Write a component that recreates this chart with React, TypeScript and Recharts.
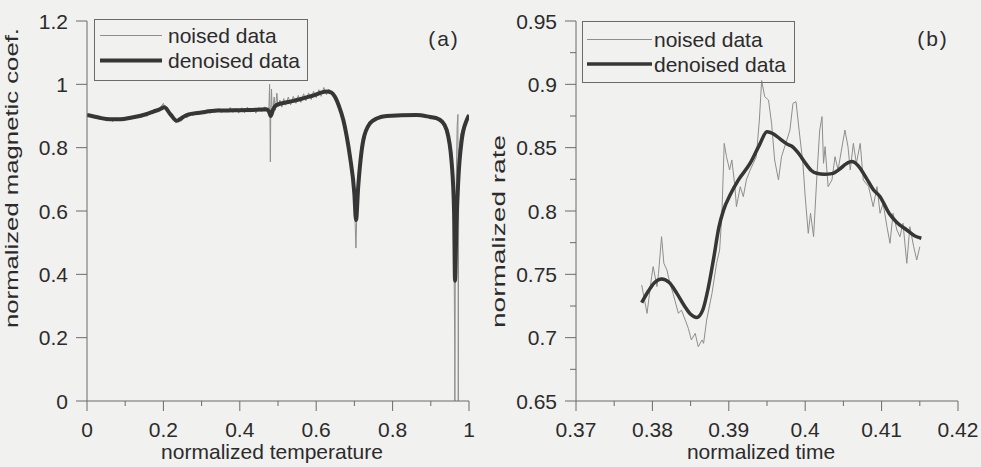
import React from "react";
import { LineChart, Line, XAxis, YAxis, Legend, Label } from "recharts";

// (a) normalized magnetic coef. against normalized temperature
const tempNoised: [number, number][] = [
  [0, 0.906], [0.008, 0.897], [0.015, 0.903], [0.022, 0.892], [0.03, 0.899], [0.037, 0.888],
  [0.045, 0.895], [0.052, 0.884], [0.06, 0.893], [0.067, 0.882], [0.075, 0.894], [0.082, 0.885],
  [0.09, 0.896], [0.097, 0.884], [0.105, 0.897], [0.112, 0.889], [0.12, 0.9], [0.127, 0.891],
  [0.135, 0.905], [0.142, 0.895], [0.15, 0.909], [0.157, 0.899], [0.165, 0.915], [0.172, 0.906],
  [0.18, 0.921], [0.187, 0.912], [0.195, 0.932], [0.2, 0.94], [0.205, 0.921], [0.21, 0.928],
  [0.217, 0.903], [0.225, 0.897], [0.232, 0.879], [0.24, 0.887], [0.247, 0.884], [0.255, 0.9],
  [0.262, 0.894], [0.27, 0.909], [0.277, 0.901], [0.285, 0.913], [0.292, 0.903], [0.3, 0.916],
  [0.307, 0.906], [0.315, 0.92], [0.322, 0.908], [0.33, 0.922], [0.337, 0.911], [0.345, 0.924],
  [0.352, 0.91], [0.36, 0.922], [0.367, 0.912], [0.375, 0.927], [0.382, 0.911], [0.39, 0.924],
  [0.397, 0.909], [0.405, 0.926], [0.412, 0.91], [0.42, 0.928], [0.427, 0.912], [0.435, 0.925],
  [0.442, 0.909], [0.45, 0.927], [0.457, 0.913], [0.465, 0.929], [0.472, 0.912], [0.476, 0.918],
  [0.478, 1.0], [0.479, 0.89], [0.48, 0.755], [0.481, 0.905], [0.483, 0.985], [0.485, 0.9],
  [0.49, 0.96], [0.493, 0.918], [0.497, 0.972], [0.5, 0.93], [0.505, 0.95], [0.51, 0.928],
  [0.515, 0.955], [0.52, 0.934], [0.527, 0.96], [0.533, 0.935], [0.54, 0.962], [0.547, 0.94],
  [0.553, 0.965], [0.56, 0.943], [0.567, 0.97], [0.573, 0.948], [0.58, 0.973], [0.587, 0.952],
  [0.593, 0.978], [0.6, 0.958], [0.607, 0.983], [0.613, 0.962], [0.62, 0.99], [0.627, 0.967],
  [0.633, 0.985], [0.64, 0.968], [0.647, 0.966], [0.655, 0.945], [0.662, 0.925], [0.67, 0.89],
  [0.678, 0.845], [0.685, 0.795], [0.692, 0.73], [0.698, 0.66], [0.702, 0.56], [0.704, 0.483],
  [0.706, 0.58], [0.71, 0.68], [0.716, 0.76], [0.723, 0.825], [0.732, 0.86], [0.741, 0.879],
  [0.75, 0.888], [0.76, 0.895], [0.775, 0.899], [0.79, 0.902], [0.805, 0.904], [0.82, 0.902],
  [0.835, 0.905], [0.85, 0.903], [0.865, 0.904], [0.88, 0.901], [0.895, 0.899], [0.91, 0.896],
  [0.922, 0.889], [0.93, 0.882], [0.938, 0.867], [0.945, 0.845], [0.951, 0.8], [0.955, 0.745],
  [0.958, 0.68], [0.961, 0.42], [0.9625, 0.19], [0.963, 0], [0.9645, 0.55], [0.966, 0.65],
  [0.969, 0.87], [0.971, 0.905], [0.972, 0], [0.973, 0.78], [0.978, 0.84], [0.985, 0.868],
  [0.993, 0.89], [1, 0.905],
];

const tempDenoised: [number, number][] = [
  [0, 0.903], [0.03, 0.895], [0.06, 0.8895], [0.09, 0.89], [0.121, 0.896], [0.15, 0.904],
  [0.174, 0.914], [0.19, 0.921], [0.2025, 0.9275], [0.218, 0.906], [0.235, 0.885], [0.248, 0.894],
  [0.261, 0.903], [0.3, 0.911], [0.3395, 0.917], [0.3833, 0.918], [0.4267, 0.919], [0.47, 0.921],
  [0.476, 0.915], [0.481, 0.9], [0.487, 0.92], [0.4966, 0.935], [0.527, 0.944], [0.5576, 0.953],
  [0.59, 0.964], [0.6274, 0.977], [0.64, 0.974], [0.649, 0.961], [0.66, 0.93], [0.671, 0.8874],
  [0.68, 0.835], [0.6885, 0.7715], [0.6998, 0.656], [0.7042, 0.5716], [0.71, 0.677],
  [0.7234, 0.8242], [0.7408, 0.877], [0.76, 0.893], [0.7845, 0.9], [0.863, 0.903], [0.898, 0.897],
  [0.915, 0.893], [0.928, 0.884], [0.9415, 0.856], [0.9547, 0.751], [0.961, 0.594],
  [0.9634, 0.38], [0.967, 0.55], [0.972, 0.698], [0.981, 0.824], [0.994, 0.887], [1, 0.903],
];

// (b) normalized rate against normalized time
const timeNoised: [number, number][] = [
  [0.3786, 0.7416], [0.3793, 0.7192], [0.3799, 0.7482], [0.3801, 0.7561], [0.3806, 0.7403],
  [0.3808, 0.7508], [0.3812, 0.7797], [0.3815, 0.7587], [0.3819, 0.7534], [0.3823, 0.7429],
  [0.3827, 0.735], [0.3834, 0.7192], [0.3838, 0.7218], [0.3843, 0.7139], [0.3847, 0.7074],
  [0.3851, 0.6982], [0.3856, 0.7034], [0.386, 0.6929], [0.3865, 0.6982], [0.3867, 0.6955],
  [0.3871, 0.7139], [0.3878, 0.735], [0.3884, 0.7587], [0.3888, 0.7692], [0.3891, 0.7982],
  [0.3894, 0.8534], [0.3897, 0.8429], [0.3901, 0.8324], [0.3904, 0.8403], [0.3908, 0.8192],
  [0.391, 0.8034], [0.3915, 0.8192], [0.3919, 0.8113], [0.3923, 0.8245], [0.3928, 0.8324],
  [0.3932, 0.8376], [0.3936, 0.8429], [0.394, 0.8718], [0.3943, 0.903], [0.3947, 0.8903],
  [0.3952, 0.8876], [0.3956, 0.8692], [0.396, 0.8403], [0.3965, 0.8245], [0.3969, 0.8429],
  [0.3976, 0.8561], [0.398, 0.8639], [0.3984, 0.885], [0.3988, 0.8863], [0.3992, 0.8639],
  [0.3997, 0.8376], [0.4, 0.8113], [0.4004, 0.7824], [0.4007, 0.7982], [0.4011, 0.7797],
  [0.4015, 0.8245], [0.4019, 0.8639], [0.4022, 0.8745], [0.4024, 0.8376], [0.4026, 0.8508],
  [0.403, 0.8192], [0.4035, 0.8245], [0.4039, 0.8429], [0.4043, 0.8324], [0.4052, 0.8639],
  [0.4056, 0.8508], [0.4059, 0.8324], [0.4063, 0.8534], [0.4067, 0.8376], [0.4072, 0.8534],
  [0.4076, 0.8245], [0.4083, 0.8192], [0.4089, 0.8034], [0.4094, 0.8192], [0.4098, 0.7982],
  [0.4102, 0.8061], [0.4107, 0.7876], [0.4111, 0.7745], [0.4115, 0.7982], [0.412, 0.785],
  [0.4124, 0.7797], [0.4128, 0.7903], [0.4133, 0.7587], [0.4137, 0.7876], [0.4142, 0.7718],
  [0.4146, 0.7613], [0.415, 0.7718],
];

const timeDenoised: [number, number][] = [
  [0.3786, 0.7276], [0.3795, 0.737], [0.3803, 0.7435], [0.3812, 0.7463], [0.3822, 0.7435],
  [0.3832, 0.735], [0.3842, 0.725], [0.385, 0.7185], [0.3858, 0.716], [0.3866, 0.722],
  [0.3873, 0.739], [0.388, 0.762], [0.3887, 0.787], [0.3893, 0.8005], [0.3902, 0.813],
  [0.3912, 0.824], [0.3928, 0.8377], [0.394, 0.852], [0.395, 0.8626], [0.3958, 0.861],
  [0.3967, 0.857], [0.3976, 0.853], [0.3984, 0.8505], [0.3992, 0.845], [0.4, 0.838],
  [0.4008, 0.832], [0.4015, 0.8298], [0.4025, 0.829], [0.4035, 0.8295], [0.4045, 0.833],
  [0.4053, 0.837], [0.4061, 0.839], [0.4069, 0.836], [0.408, 0.826], [0.4089, 0.817],
  [0.4098, 0.8113], [0.411, 0.798], [0.412, 0.791], [0.4133, 0.785], [0.4143, 0.7805],
  [0.4152, 0.7785],
];

const tempXTicks = [0, 0.1, 0.2, 0.3, 0.4, 0.5, 0.6, 0.7, 0.8, 0.9, 1];
const tempXLabels = [0, 0.2, 0.4, 0.6, 0.8, 1];
const tempYTicks = [0, 0.2, 0.4, 0.6, 0.8, 1, 1.2];
const tempYLabels = [0, 0.2, 0.4, 0.6, 0.8, 1, 1.2];
const timeXTicks = [0.37, 0.375, 0.38, 0.385, 0.39, 0.395, 0.4, 0.405, 0.41, 0.415, 0.42];
const timeXLabels = [0.37, 0.38, 0.39, 0.4, 0.41, 0.42];
const timeYTicks = [0.65, 0.675, 0.7, 0.725, 0.75, 0.775, 0.8, 0.825, 0.85, 0.875, 0.9, 0.925, 0.95];
const timeYLabels = [0.65, 0.7, 0.75, 0.8, 0.85, 0.9, 0.95];

const seriesNames = ["noised data", "denoised data"];

const FONT = '"Liberation Sans", Arial, sans-serif';
const INK = "#2b2b2b";
const AXIS = "#6b6b6b";
const NOISE = "#8e8e8e";
const SMOOTH = "#363636";
const PAPER = "#f1f1ef";

const toPoints = (pairs: [number, number][]) => pairs.map(([x, y]) => ({ x, y }));
const isIn = (list: number[], v: number) => list.some((m) => Math.abs(m - v) < 1e-9);

function XTick(props: any) {
  const { x, y, payload, labels } = props;
  const major = isIn(labels, payload.value);
  return (
    <g>
      <line x1={x} x2={x} y1={y} y2={y + (major ? 10 : 5)} stroke={AXIS} strokeWidth={1} />
      {major && (
        <text x={x} y={y + 36} textAnchor="middle" fontSize={21} fontFamily={FONT} fill={INK}>
          {String(payload.value)}
        </text>
      )}
    </g>
  );
}

function YTick(props: any) {
  const { x, y, payload, labels } = props;
  const major = isIn(labels, payload.value);
  return (
    <g>
      <line x1={x} x2={x - (major ? 11 : 6)} y1={y} y2={y} stroke={AXIS} strokeWidth={1} />
      {major && (
        <text x={x - 19} y={y + 7.5} textAnchor="end" fontSize={21} fontFamily={FONT} fill={INK}>
          {String(payload.value)}
        </text>
      )}
    </g>
  );
}

// legend drawn in series order: thin grey noised line, thick dark denoised line
function LegendBox(props: any) {
  const { w, h, lineX, lineLen, textX, rows, smoothWidth } = props;
  const looks = [
    { color: NOISE, width: 1 },
    { color: SMOOTH, width: smoothWidth },
  ];
  return (
    <svg width={w} height={h} style={{ display: "block" }}>
      <rect x={0.5} y={0.5} width={w - 1} height={h - 1} fill="none" stroke={AXIS} strokeWidth={1} />
      {seriesNames.map((name, i) => (
        <g key={name}>
          <line
            x1={lineX}
            x2={lineX + lineLen}
            y1={rows[i]}
            y2={rows[i]}
            stroke={looks[i].color}
            strokeWidth={looks[i].width}
          />
          <text x={textX} y={rows[i] + 7.5} fontSize={21} fontFamily={FONT} fill={INK}>
            {name}
          </text>
        </g>
      ))}
    </svg>
  );
}

function Panel(props: any) {
  const {
    width, left, right, noised, denoised, xDomain, yDomain, xTicks, xLabels, yTicks, yLabels,
    xTitle, yTitle, yTitleGap, yTitleLength, legend, smoothWidth,
  } = props;
  return (
    <LineChart width={width} height={467} margin={{ top: 21, right, bottom: 0, left }}>
      <XAxis
        type="number"
        dataKey="x"
        domain={xDomain}
        ticks={xTicks}
        interval={0}
        allowDataOverflow
        height={66}
        tickSize={0}
        tickMargin={0}
        tickLine={false}
        axisLine={{ stroke: AXIS, strokeWidth: 1 }}
        tick={<XTick labels={xLabels} />}
      >
        <Label
          content={(p: any) => (
            <text
              x={p.viewBox.x + p.viewBox.width / 2 - 6}
              y={p.viewBox.y + 58}
              textAnchor="middle"
              fontSize={21}
              fontFamily={FONT}
              fill={INK}
            >
              {xTitle}
            </text>
          )}
        />
      </XAxis>
      <YAxis
        type="number"
        dataKey="y"
        domain={yDomain}
        ticks={yTicks}
        interval={0}
        allowDataOverflow
        width={80}
        tickSize={0}
        tickMargin={0}
        tickLine={false}
        axisLine={{ stroke: AXIS, strokeWidth: 1 }}
        tick={<YTick labels={yLabels} />}
      >
        <Label
          content={(p: any) => {
            const bx = p.viewBox.x + p.viewBox.width - yTitleGap;
            const by = p.viewBox.y + p.viewBox.height - 73;
            return (
              <text
                x={bx}
                y={by}
                transform={`rotate(-90, ${bx}, ${by})`}
                textAnchor="start"
                fontSize={18}
                fontFamily={FONT}
                fill={INK}
                textLength={yTitleLength}
                lengthAdjust="spacingAndGlyphs"
              >
                {yTitle}
              </text>
            );
          }}
        />
      </YAxis>
      <Line
        data={toPoints(noised)}
        dataKey="y"
        name={seriesNames[0]}
        type="linear"
        stroke={NOISE}
        strokeWidth={1}
        dot={false}
        activeDot={false}
        isAnimationActive={false}
      />
      <Line
        data={toPoints(denoised)}
        dataKey="y"
        name={seriesNames[1]}
        type="monotone"
        stroke={SMOOTH}
        strokeWidth={smoothWidth}
        dot={false}
        activeDot={false}
        isAnimationActive={false}
      />
      <Legend
        layout="horizontal"
        verticalAlign="middle"
        align="center"
        wrapperStyle={{ left: legend.left, top: legend.top, width: legend.w, height: legend.h }}
        content={<LegendBox {...legend} smoothWidth={smoothWidth} />}
      />
    </LineChart>
  );
}

const tagStyle: React.CSSProperties = {
  position: "absolute",
  width: 40,
  textAlign: "center",
  fontFamily: FONT,
  fontSize: 21,
  lineHeight: "21px",
  letterSpacing: 2,
  color: INK,
};

export default function App() {
  return (
    <div
      style={{
        position: "absolute",
        left: 0,
        top: 0,
        width: 981,
        height: 467,
        background: PAPER,
        overflow: "hidden",
      }}
    >
      <div style={{ position: "absolute", left: 0, top: 0 }}>
        <Panel
          width={490}
          left={7}
          right={21}
          noised={tempNoised}
          denoised={tempDenoised}
          xDomain={[0, 1]}
          yDomain={[0, 1.2]}
          xTicks={tempXTicks}
          xLabels={tempXLabels}
          yTicks={tempYTicks}
          yLabels={tempYLabels}
          xTitle="normalized temperature"
          yTitle="normalized magnetic coef."
          yTitleGap={69}
          yTitleLength={300}
          smoothWidth={4}
          legend={{ left: 94, top: 19, w: 214, h: 62, lineX: 6, lineLen: 62, textX: 74, rows: [16.5, 41.5] }}
        />
      </div>
      <div style={{ position: "absolute", left: 470, top: 0 }}>
        <Panel
          width={511}
          left={26}
          right={23}
          noised={timeNoised}
          denoised={timeDenoised}
          xDomain={[0.37, 0.42]}
          yDomain={[0.65, 0.95]}
          xTicks={timeXTicks}
          xLabels={timeXLabels}
          yTicks={timeYTicks}
          yLabels={timeYLabels}
          xTitle="normalized time"
          yTitle="normalized rate"
          yTitleGap={71}
          yTitleLength={193}
          smoothWidth={3.5}
          legend={{ left: 112, top: 21, w: 213, h: 62, lineX: 5, lineLen: 65, textX: 72, rows: [18.5, 43] }}
        />
      </div>
      <div style={{ ...tagStyle, left: 424, top: 28 }}>(a)</div>
      <div style={{ ...tagStyle, left: 913, top: 28 }}>(b)</div>
    </div>
  );
}
